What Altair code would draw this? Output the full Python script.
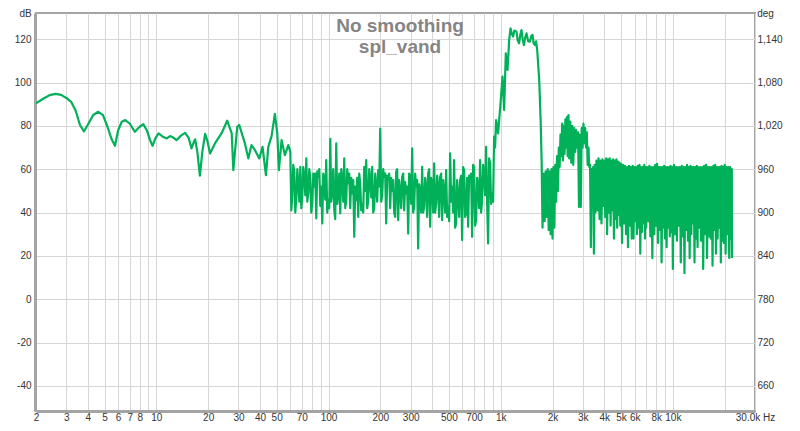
import altair as alt
import pandas as pd

# ---------------- data ----------------
freq_low = [2.0, 2.2, 2.4, 2.6, 2.8, 3.0, 3.2, 3.4, 3.6, 3.8, 4.0, 4.3, 4.6, 4.9, 5.2, 5.5,
            5.75, 6.0, 6.3, 6.6, 7.0, 7.5, 8.0, 8.4, 8.8, 9.2, 9.5, 9.9, 10.3, 10.9, 11.5,
            12.0, 12.6, 13.1, 13.9, 14.7, 15.4, 16.0, 16.5, 16.8, 17.3, 17.9, 18.5, 19.2,
            19.8, 20.5]
spl_low = [90.4, 92.5, 94.2, 94.8, 94.3, 92.9, 91.1, 87.0, 80.4, 77.5, 80.5, 85.0, 86.5,
           85.0, 79.6, 73.8, 70.8, 78.0, 81.9, 82.7, 81.1, 77.3, 79.6, 80.8, 78.0, 73.4,
           70.8, 74.5, 76.5, 75.0, 74.2, 75.3, 74.5, 73.4, 75.5, 76.8, 74.5, 69.6, 72.5,
           73.8, 68.0, 57.0, 68.0, 76.3, 73.0, 67.3]

freq_mid = [21.9, 23.9, 25.8, 27.4, 28.0, 29.5, 30.3, 32.7, 34.2, 35.7, 37.4, 39.6, 41.4,
            43.3, 44.7, 46.7, 48.8, 50.4, 51.5, 53.4, 55.8, 58.4]
spl_mid = [71.9, 76.5, 82.4, 76.5, 59.6, 79.6, 80.4, 71.9, 65.0, 71.1, 68.8, 65.0, 70.3,
           57.3, 70.3, 75.3, 85.5, 76.5, 59.6, 73.4, 66.5, 71.1]

freq_noise = [60.0, 61.6, 63.3, 65.0, 66.8, 68.6, 70.4, 72.3, 74.3, 76.3, 78.4, 80.5, 82.7,
              84.9, 87.2, 89.6, 92.0, 94.5, 97.0, 99.7, 102.4, 105.1, 108.0, 110.9, 113.9,
              117.0, 120.2, 123.4, 126.8, 130.2, 133.7, 137.3, 141.1, 144.9, 148.8, 152.8,
              157.0, 161.2, 165.6, 170.1, 174.7, 179.4, 184.3, 189.3, 194.4, 199.7, 205.1,
              210.6, 216.3, 222.2, 228.2, 234.4, 240.7, 247.2, 253.9, 260.8, 267.9, 275.1,
              282.6, 290.2, 298.1, 306.2, 314.5, 323.0, 331.7, 340.7, 349.9, 359.4, 369.1,
              379.1, 389.4, 399.9, 410.7, 421.9, 433.3, 445.0, 457.1, 469.5, 482.2, 495.2,
              508.6, 522.4, 536.6, 551.1, 566.0, 581.4, 597.1, 613.3, 629.9, 647.0, 664.5,
              682.5, 701.0, 720.0, 739.5, 759.5, 780.1, 801.2, 822.9, 845.2, 868.1, 891.6,
              915.8, 940.6]
spl_noise = [68.0, 47.3, 58.8, 46.5, 53, 61.1, 47.3, 57, 65.0, 49, 56, 44, 52, 37.3, 56.5,
             43, 35.0, 55, 64.2, 46, 74, 50, 41.1, 71.9, 48, 39.6, 55, 65.0, 45.7, 53.4, 42,
             48.8, 28.8, 45.7, 38, 53.4, 44, 61.1, 64.2, 45.7, 55, 61.1, 41.9, 52, 59.6,
             78.8, 48, 56.5, 35.0, 55.0, 42, 50, 40, 58.8, 36.5, 50, 56.5, 41, 48.8, 30.3,
             56.5, 69.6, 42.6, 52, 23.4, 50, 61.1, 42.6, 52, 58.1, 33.4, 54, 62.7, 44.2, 52,
             56.5, 36.5, 50, 59.6, 42.6, 67.3, 51.9, 64.2, 35.0, 48, 55.0, 27.3, 59.6, 40,
             33.4, 55.0, 28.8, 61.1, 36.5, 52, 64.2, 45.7, 58, 70.3, 25.7, 62.7, 48.8, 75.0,
             82.7]

# in-between samples of the same noisy stretch
freq_noise_b = [60.8, 62.4, 64.1, 65.9, 67.7, 69.5, 71.3, 73.3, 75.3, 77.3, 79.4, 81.6, 83.8,
                86.0, 88.4, 90.8, 93.2, 95.7, 98.3, 101.0, 103.7, 106.5, 109.4, 112.4, 115.4,
                118.6, 121.8, 125.1, 128.5, 131.9, 135.5, 139.2, 143.0, 146.8, 150.8, 154.9,
                159.1, 163.4, 167.8, 172.4, 177.0, 181.8, 186.8, 191.8, 197.0, 202.4, 207.8,
                213.4, 219.2, 225.2, 231.3, 237.5, 243.9, 250.5, 257.3, 264.3, 271.5, 278.8,
                286.4, 294.1, 302.1, 310.3, 318.7, 327.3, 336.2, 345.3, 354.6, 364.2, 374.1,
                384.2, 394.6, 405.3, 416.3, 427.6, 439.1, 451.0, 463.3, 475.8, 488.7, 501.9,
                515.5, 529.5, 543.8, 558.5, 573.7, 589.2, 605.2, 621.6, 638.4, 655.7, 673.5,
                691.7, 710.5, 729.7, 749.5, 769.8, 790.6, 812.0, 834.0, 856.6, 879.8, 903.7,
                928.2]
spl_noise_b = [41, 62, 40, 60, 45, 42, 61, 48, 45, 60,
               40, 58, 58, 59, 60, 52, 58, 46, 40, 42,
               45, 60, 37, 44, 58, 60, 45, 42, 60, 58,
               56, 55, 52, 56, 58, 41, 40, 50, 42, 60,
               47, 40, 58, 45, 52, 45, 60, 58, 57, 58,
               56, 55, 38, 60, 55, 42, 58, 54, 52, 58,
               44, 40, 58, 55, 53, 40, 40, 56, 38, 60,
               56, 40, 40, 57, 38, 58, 55, 40, 38, 36,
               45, 40, 33, 55, 38, 57, 61, 38, 56, 57,
               58, 62, 34, 56, 42, 40, 62, 48, 45, 65,
               44, 45, 70]

freq_peak = [966, 997.7, 1025, 1047, 1071, 1096, 1120, 1141, 1160, 1181, 1200, 1236, 1255,
             1279, 1300, 1321, 1342, 1364, 1390, 1413, 1445, 1478, 1505, 1531, 1555, 1580,
             1605, 1630, 1674, 1706, 1729]
spl_peak = [76.5, 90.4, 102.7, 87.3, 113.5, 105.8, 119.6, 125.0, 122.5, 121.2, 124, 123.5,
            119.5, 118.1, 122, 124.2, 120, 117.3, 121, 122.7, 119, 118.9, 121.5, 122.0, 118,
            117.3, 119, 115.0, 101.2, 82.7, 64.2]

freq_block = [1750, 1775, 1800, 1825, 1850, 1875, 1900, 1925, 1950, 1975, 2000, 2025, 2050,
              2075, 2100, 2125, 2150, 2175, 2200, 2225, 2250, 2275, 2300, 2325, 2350, 2375,
              2400, 2425, 2450, 2475, 2500, 2535, 2570, 2605, 2640, 2675, 2710, 2745, 2780,
              2815, 2850, 2885, 2920, 2955, 2990, 3025, 3060, 3095, 3130, 3165, 3200, 3235,
              3270, 3305, 3340, 3375, 3410, 3445, 3480, 3515, 3550]
spl_block = [33, 58, 36, 59, 38, 60, 32, 59, 30, 60, 28, 61, 33, 62, 45, 66, 50, 70, 61, 76,
             66, 81, 64, 80, 67, 83, 70, 84, 66, 85, 65, 82, 63, 80, 62, 79, 68, 78, 70, 77,
             42.6, 76, 42.6, 79, 70, 81, 72, 79, 70, 77, 62, 70, 61, 62, 24, 60, 42, 61, 21,
             62, 40]

freq_high_a = [3600, 3650, 3700, 3750, 3800, 3850, 3900, 3950, 4000, 4050, 4100, 4150, 4200,
               4250, 4300, 4350, 4400, 4450, 4500, 4550, 4600, 4650, 4700, 4750, 4800, 4850,
               4900, 4950]
spl_high_a = [64, 41, 65, 37, 64, 35, 64.5, 43, 64, 38, 65, 30, 64.5, 40, 65, 34, 64, 41,
              64.5, 28, 64, 37, 64.5, 33, 63.5, 39, 63, 34]
freq_high_b = [5000, 5070, 5140, 5210, 5280, 5350, 5420, 5490, 5560, 5630, 5700, 5770, 5840,
               5910, 5980, 6050, 6120, 6190, 6260, 6330, 6400, 6470, 6540, 6610, 6680, 6750,
               6820, 6890, 6960]
spl_high_b = [62.5, 26, 62, 35, 61.5, 30, 61, 24, 61.5, 34, 61, 28, 61.5, 28, 61, 36, 61,
              30, 61.5, 33, 62, 21, 61, 31, 61, 35, 62, 28, 61]
freq_high_c = [7000, 7100, 7200, 7300, 7400, 7500, 7600, 7700, 7800, 7900, 8000, 8100, 8200,
               8300, 8400, 8500, 8600, 8700, 8800, 8900, 9000, 9100, 9200, 9300, 9400, 9500,
               9600, 9700, 9800, 9900]
spl_high_c = [33, 61, 36, 61.5, 29, 61, 19, 61, 30, 62, 34, 62.5, 26, 61, 32, 61, 17, 61,
              33, 61.5, 28, 61, 24, 61, 33, 61, 29, 61.5, 31, 61]
freq_high_d = [10000, 10140, 10280, 10420, 10560, 10700, 10840, 10980, 11120, 11260, 11400,
               11540, 11680, 11820, 11960, 12100, 12240, 12380, 12520, 12660, 12800, 12940,
               13080, 13220, 13360, 13500, 13640, 13780, 13920]
spl_high_d = [14, 62, 30, 61, 27, 61, 34, 61, 17, 61.5, 29, 61, 12, 61, 32, 62, 27, 61, 19,
              61.5, 30, 61, 35, 61, 17, 61, 28, 61.5, 24]
freq_high_e = [14000, 14200, 14400, 14600, 14800, 15000, 15200, 15400, 15600, 15800, 16000,
               16200, 16400, 16600, 16800, 17000, 17200, 17400, 17600, 17800, 18000, 18200,
               18400, 18600, 18800, 19000, 19200, 19400, 19600, 19800]
spl_high_e = [61, 33, 61, 27, 61, 14, 61.5, 30, 62, 19, 61, 29, 61, 28, 61, 15.5, 61.5, 32,
              62, 21, 61, 28, 61, 33, 61, 17, 61.5, 27, 61, 26]
freq_high_f = [20000, 20250, 20500, 20750, 21000, 21250, 21500, 21750, 22000, 22050]
spl_high_f = [62, 21, 61, 30, 61, 19, 61, 28, 60, 19]

y_ticks = [-40, -20, 0, 20, 40, 60, 80, 100, 120]
y_domain = [-51.6, 132.1]
x_domain = [2, 30000]
x_grid = [2, 3, 4, 5, 6, 7, 8, 9, 10, 20, 30, 40, 50, 60, 70, 80, 90, 100, 200, 300, 400,
          500, 600, 700, 800, 900, 1000, 2000, 3000, 4000, 5000, 6000, 7000, 8000, 9000,
          10000, 20000, 30000]
x_labels = {2: "2", 3: "3", 4: "4", 5: "5", 6: "6", 7: "7", 8: "8", 10: "10", 20: "20",
            30: "30", 40: "40", 50: "50", 70: "70", 100: "100", 200: "200", 300: "300",
            500: "500", 700: "700", 1000: "1k", 2000: "2k", 3000: "3k", 4000: "4k",
            5000: "5k", 6000: "6k", 8000: "8k", 10000: "10k", 30000: "30.0k Hz"}
title_lines = ["No smoothing", "spl_vand"]
deg_scale, deg_offset = 3, 780

# ---------------- build table ----------------
sections = [(freq_low, spl_low), (freq_mid, spl_mid), (freq_noise, spl_noise),
            (freq_noise_b, spl_noise_b), (freq_peak, spl_peak), (freq_block, spl_block),
            (freq_high_a, spl_high_a), (freq_high_b, spl_high_b),
            (freq_high_c, spl_high_c), (freq_high_d, spl_high_d),
            (freq_high_e, spl_high_e), (freq_high_f, spl_high_f)]
freqs, spls = [], []
for fs, ss in sections:
    for f, s in zip(fs, ss, strict=True):
        freqs.append(f)
        spls.append(s)
df = pd.DataFrame({"freq": freqs, "spl": spls}).sort_values("freq").reset_index(drop=True)

FONT = "Liberation Sans"
LABEL_COLOR = "#333333"
FRAME = "#a4a4a4"
GREEN = "#00b159"
GRID = "#d6d6d6"

x_label_expr = "".join(f"datum.value == {k} ? '{v}' : " for k, v in x_labels.items()) + "''"

x_enc = alt.X(
    "freq:Q",
    scale=alt.Scale(type="log", domain=x_domain, nice=False),
    axis=alt.Axis(values=x_grid, labelExpr=x_label_expr, title=None, ticks=False,
                  grid=True, gridColor=GRID, gridWidth=1, labelOverlap=False,
                  labelFlush=False, labelFont=FONT, labelFontSize=10,
                  labelColor=LABEL_COLOR, labelPadding=1, domainColor=FRAME,
                  domainWidth=3),
)

line = alt.Chart(df).mark_line(color=GREEN, strokeWidth=2.2, strokeJoin="round",
                               clip=True).encode(
    x=x_enc,
    y=alt.Y("spl:Q", scale=alt.Scale(domain=y_domain, nice=False, zero=False),
            axis=alt.Axis(values=y_ticks, orient="left", labelExpr="datum.value + ''",
                          ticks=False, grid=True, gridColor=GRID, gridWidth=1,
                          labelFont=FONT, labelFontSize=10, labelColor=LABEL_COLOR,
                          labelPadding=4, offset=1, domainColor=FRAME, domainWidth=3,
                          title="dB", titleAngle=0, titleX=-10, titleY=3,
                          titleAlign="center", titleBaseline="alphabetic",
                          titleFont=FONT, titleFontSize=10, titleFontWeight="normal",
                          titleColor=LABEL_COLOR)),
    order="freq:Q",
)

right = alt.Chart(df).mark_line(opacity=0).encode(
    x=alt.X("freq:Q", scale=alt.Scale(type="log", domain=x_domain, nice=False)),
    y=alt.Y("spl:Q", scale=alt.Scale(domain=y_domain, nice=False, zero=False),
            axis=alt.Axis(values=y_ticks, orient="right",
                          labelExpr=f"format(datum.value*{deg_scale}+{deg_offset}, ',')",
                          ticks=False, grid=False, domain=False, labelFont=FONT,
                          labelFontSize=10, labelColor=LABEL_COLOR, labelPadding=2,
                          title="deg", titleAngle=0, titleX=10, titleY=3,
                          titleAlign="center", titleBaseline="alphabetic",
                          titleFont=FONT, titleFontSize=10, titleFontWeight="normal",
                          titleColor=LABEL_COLOR)),
)

title_df = pd.DataFrame({"label": ["\n".join(title_lines)]})
title = alt.Chart(title_df).mark_text(
    font=FONT, fontSize=19, fontWeight="bold", color="#858585", align="center",
    baseline="alphabetic", lineBreak="\n", lineHeight=21.6,
).encode(x=alt.value(364), y=alt.value(18.7), text="label:N")

chart = (
    alt.layer(line, right, title)
    .resolve_scale(y="independent")
    .properties(width=719, height=398,
                autosize=alt.AutoSizeParams(type="none"),
                padding={"left": 28, "top": 5, "right": 37, "bottom": 12},
                background="white")
    .configure_view(stroke=FRAME, strokeWidth=2)
)

chart.save("out.html", embed_options={"renderer": "svg", "actions": False})
